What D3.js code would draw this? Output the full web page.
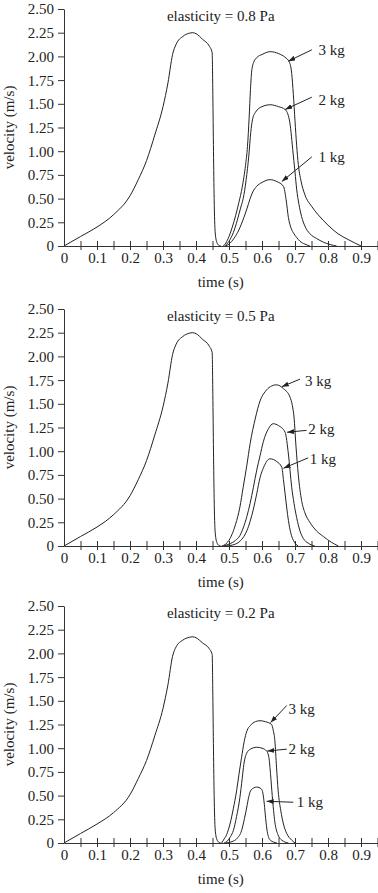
<!DOCTYPE html>
<html lang="en">
<head>
<meta charset="UTF-8">
<title>velocity vs time</title>
<script src="https://d3js.org/d3.v7.min.js"></script>
<style>
  body { margin: 0; background: #fff; }
  svg text { font-family: "Liberation Serif", "DejaVu Serif", serif; fill: #222; }
</style>
</head>
<body>
<svg id="chart" width="378" height="893"></svg>
<script>
// ---- data ----
const elasticity = ["0.8", "0.5", "0.2"];
const masses = ["1 kg", "2 kg", "3 kg"];
const xMajorTicks = [0, 0.1, 0.2, 0.3, 0.4, 0.5, 0.6, 0.7, 0.8, 0.9];
const xMinorTicks = [0.05, 0.15, 0.25, 0.35, 0.45, 0.55, 0.65, 0.75, 0.85, 0.95];
const xTickLabels = ["0", "0.1", "0.2", "0.3", "0.4", "0.5", "0.6", "0.7", "0.8", "0.9"];
const yTicks = [0, 0.25, 0.5, 0.75, 1, 1.25, 1.5, 1.75, 2, 2.25, 2.5];
const yTickLabels = ["0", "0.25", "0.50", "0.75", "1.00", "1.25", "1.50", "1.75", "2.00", "2.25", "2.50"];

// first hump, same for every mass
const swingT   = [0, 0.05, 0.1, 0.15, 0.2, 0.225, 0.25, 0.275, 0.3, 0.315, 0.329, 0.34, 0.36, 0.38, 0.39, 0.40, 0.42, 0.44, 0.449, 0.451, 0.453, 0.455, 0.458, 0.463, 0.47, 0.475];
const swingV   = [0, 0.10, 0.20, 0.33, 0.53, 0.70, 0.90, 1.17, 1.47, 1.72, 2.02, 2.13, 2.21, 2.245, 2.25, 2.24, 2.18, 2.11, 2.04, 1.6, 1.0, 0.5, 0.15, 0.04, 0.005, 0];
const swingV02 = [0, 0.10, 0.20, 0.32, 0.51, 0.68, 0.87, 1.13, 1.42, 1.67, 1.97, 2.07, 2.14, 2.17, 2.175, 2.165, 2.11, 2.05, 1.99, 1.56, 0.98, 0.5, 0.15, 0.04, 0.005, 0];

// elasticity 0.8 Pa
const e08_1kg_t = [0.49, 0.50, 0.515, 0.53, 0.545, 0.555, 0.564, 0.572, 0.584, 0.60, 0.624, 0.645, 0.665, 0.673, 0.68, 0.687, 0.695, 0.705, 0.715, 0.73, 0.745];
const e08_1kg_v = [0, 0.02, 0.08, 0.17, 0.3, 0.4, 0.5, 0.57, 0.63, 0.67, 0.70, 0.68, 0.63, 0.49, 0.3, 0.2, 0.14, 0.09, 0.05, 0.02, 0];
const e08_2kg_t = [0.487, 0.50, 0.513, 0.525, 0.535, 0.543, 0.552, 0.56, 0.566, 0.571, 0.58, 0.60, 0.625, 0.65, 0.67, 0.683, 0.688, 0.693, 0.70, 0.705, 0.712, 0.72, 0.73, 0.745, 0.765, 0.786, 0.826];
const e08_2kg_v = [0, 0.05, 0.14, 0.27, 0.4, 0.5, 0.7, 0.95, 1.2, 1.33, 1.41, 1.47, 1.49, 1.47, 1.44, 1.33, 1.2, 1.02, 0.78, 0.6, 0.44, 0.31, 0.21, 0.13, 0.08, 0.04, 0];
const e08_3kg_t = [0.483, 0.49, 0.50, 0.51, 0.52, 0.53, 0.54, 0.55, 0.556, 0.561, 0.565, 0.569, 0.575, 0.585, 0.60, 0.625, 0.65, 0.67, 0.683, 0.69, 0.695, 0.70, 0.705, 0.71, 0.718, 0.73, 0.75, 0.77, 0.80, 0.83, 0.86, 0.90];
const e08_3kg_v = [0, 0.03, 0.1, 0.2, 0.32, 0.46, 0.62, 0.85, 1.05, 1.35, 1.65, 1.85, 1.94, 1.99, 2.02, 2.05, 2.03, 1.99, 1.94, 1.82, 1.6, 1.32, 1.06, 0.86, 0.69, 0.54, 0.42, 0.33, 0.22, 0.13, 0.07, 0];

// elasticity 0.5 Pa
const e05_1kg_t = [0.487, 0.51, 0.533, 0.545, 0.554, 0.564, 0.574, 0.584, 0.594, 0.605, 0.624, 0.645, 0.66, 0.665, 0.67, 0.68, 0.687, 0.695, 0.71];
const e05_1kg_v = [0, 0.01, 0.05, 0.1, 0.16, 0.26, 0.39, 0.55, 0.72, 0.83, 0.92, 0.89, 0.83, 0.7, 0.55, 0.27, 0.14, 0.06, 0];
const e05_2kg_t = [0.483, 0.50, 0.52, 0.533, 0.543, 0.554, 0.564, 0.574, 0.584, 0.594, 0.604, 0.62, 0.634, 0.65, 0.67, 0.68, 0.69, 0.697, 0.705, 0.715, 0.725, 0.74, 0.76];
const e05_2kg_v = [0, 0.02, 0.06, 0.11, 0.19, 0.31, 0.45, 0.62, 0.8, 0.95, 1.1, 1.24, 1.29, 1.27, 1.2, 0.97, 0.62, 0.45, 0.3, 0.16, 0.08, 0.03, 0];
const e05_3kg_t = [0.478, 0.49, 0.50, 0.51, 0.52, 0.533, 0.543, 0.554, 0.564, 0.58, 0.594, 0.61, 0.625, 0.644, 0.665, 0.685, 0.692, 0.697, 0.703, 0.71, 0.72, 0.73, 0.745, 0.765, 0.786, 0.81, 0.831];
const e05_3kg_v = [0, 0.02, 0.06, 0.13, 0.23, 0.41, 0.62, 0.85, 1.08, 1.35, 1.53, 1.63, 1.68, 1.70, 1.66, 1.57, 1.48, 1.36, 1.05, 0.75, 0.48, 0.35, 0.25, 0.16, 0.1, 0.04, 0];

// elasticity 0.2 Pa
const e02_1kg_t = [0.49, 0.505, 0.513, 0.525, 0.538, 0.547, 0.554, 0.56, 0.567, 0.584, 0.598, 0.603, 0.607, 0.611, 0.616, 0.625, 0.645];
const e02_1kg_v = [0, 0.01, 0.02, 0.05, 0.13, 0.26, 0.38, 0.49, 0.56, 0.59, 0.57, 0.52, 0.41, 0.26, 0.12, 0.03, 0];
const e02_2kg_t = [0.485, 0.495, 0.505, 0.513, 0.523, 0.533, 0.54, 0.545, 0.554, 0.565, 0.584, 0.60, 0.614, 0.621, 0.626, 0.631, 0.639, 0.648, 0.66, 0.68];
const e02_2kg_v = [0, 0.02, 0.07, 0.13, 0.28, 0.48, 0.68, 0.83, 0.95, 0.99, 1.01, 1.0, 0.97, 0.9, 0.72, 0.5, 0.22, 0.09, 0.03, 0];
const e02_3kg_t = [0.478, 0.483, 0.493, 0.503, 0.513, 0.523, 0.53, 0.538, 0.546, 0.554, 0.565, 0.58, 0.594, 0.61, 0.629, 0.634, 0.639, 0.644, 0.649, 0.657, 0.665, 0.675, 0.69, 0.70];
const e02_3kg_v = [0, 0.03, 0.09, 0.2, 0.36, 0.55, 0.72, 0.9, 1.07, 1.18, 1.24, 1.28, 1.29, 1.28, 1.25, 1.19, 1.08, 0.8, 0.55, 0.34, 0.2, 0.1, 0.03, 0];

// ---- layout ----
const panelTop = [9, 309, 606];
const plotH = 237;
const fontSize = 15;

// label / arrow placement in data units: [labelT, labelV, tailT, tailV, tipT, tipV], order 1, 2, 3 kg
const notePos = [
  [[0.771, 0.94, 0.751, 0.94, 0.660, 0.68], [0.771, 1.54, 0.751, 1.57, 0.670, 1.44], [0.771, 2.07, 0.751, 2.07, 0.680, 1.95]],
  [[0.745, 0.92, 0.740, 0.93, 0.665, 0.82], [0.740, 1.23, 0.735, 1.22, 0.676, 1.20], [0.730, 1.74, 0.715, 1.76, 0.660, 1.68]],
  [[0.705, 0.43, 0.695, 0.43, 0.614, 0.44], [0.680, 0.99, 0.675, 0.99, 0.616, 0.97], [0.680, 1.41, 0.675, 1.45, 0.626, 1.27]]
];

const panels = [
  { swing: swingV,   curves: [[e08_1kg_t, e08_1kg_v], [e08_2kg_t, e08_2kg_v], [e08_3kg_t, e08_3kg_v]] },
  { swing: swingV,   curves: [[e05_1kg_t, e05_1kg_v], [e05_2kg_t, e05_2kg_v], [e05_3kg_t, e05_3kg_v]] },
  { swing: swingV02, curves: [[e02_1kg_t, e02_1kg_v], [e02_2kg_t, e02_2kg_v], [e02_3kg_t, e02_3kg_v]] }
];

const svg = d3.select("#chart");
const ink = "#222";

svg.append("defs").append("marker")
    .attr("id", "arrow")
    .attr("markerUnits", "userSpaceOnUse")
    .attr("markerWidth", 8).attr("markerHeight", 6)
    .attr("refX", 7).attr("refY", 2.5)
    .attr("orient", "auto")
  .append("path")
    .attr("d", "M0,0 L7,2.5 L0,5 Z")
    .attr("fill", ink);

const x = d3.scaleLinear().domain([0, 0.95]).range([64, 64 + 0.95 * 330]);

panels.forEach((p, pi) => {
  const top = panelTop[pi];
  const y = d3.scaleLinear().domain([0, 2.5]).range([top + plotH, top]);
  const g = svg.append("g");

  // y axis
  const ya = g.append("g")
      .attr("transform", `translate(${x(0)},0)`)
      .call(d3.axisLeft(y).tickValues(yTicks).tickSize(6).tickSizeOuter(0).tickPadding(4)
        .tickFormat((d, i) => yTickLabels[i]));
  ya.attr("font-size", fontSize).attr("font-family", null);
  ya.selectAll("text").attr("dy", "0.33em");

  // x axis: minor ticks, then major ticks with labels
  const xa1 = g.append("g")
      .attr("transform", `translate(0,${y(0)})`)
      .call(d3.axisBottom(x).tickValues(xMinorTicks).tickSize(4).tickSizeOuter(0).tickFormat(""));
  const xa2 = g.append("g")
      .attr("transform", `translate(0,${y(0)})`)
      .call(d3.axisBottom(x).tickValues(xMajorTicks).tickSize(4).tickSizeOuter(0).tickPadding(2.5)
        .tickFormat((d, i) => xTickLabels[i]));
  xa2.select(".domain").remove();
  [xa1, xa2].forEach(a => {
    a.attr("font-size", fontSize).attr("font-family", null);
    a.selectAll(".tick line").attr("y1", -5).attr("y2", 4);
  });
  xa2.selectAll(".tick").filter(d => d === 0).select("line").remove();
  g.selectAll(".domain, .tick line").attr("stroke", "#333");

  // titles
  g.append("text")
      .attr("x", (x.range()[0] + x.range()[1]) / 2)
      .attr("y", top + 12)
      .attr("text-anchor", "middle")
      .attr("font-size", fontSize)
      .text(`elasticity = ${elasticity[pi]} Pa`);
  g.append("text")
      .attr("x", (x.range()[0] + x.range()[1]) / 2)
      .attr("y", y(0) + 41)
      .attr("text-anchor", "middle")
      .attr("font-size", fontSize)
      .text("time (s)");
  g.append("text")
      .attr("transform", `translate(9,${(y(0) + y(2.5)) / 2}) rotate(-90)`)
      .attr("dy", "0.3em")
      .attr("text-anchor", "middle")
      .attr("font-size", fontSize)
      .text("velocity (m/s)");

  // curves
  const line = d3.line()
      .x(d => x(d[0]))
      .y(d => y(d[1]))
      .curve(d3.curveMonotoneX);

  g.append("path")
      .datum(d3.zip(swingT, p.swing))
      .attr("d", line)
      .attr("fill", "none").attr("stroke", ink).attr("stroke-width", 1);

  p.curves.forEach(c => {
    g.append("path")
        .datum(d3.zip(c[0], c[1]))
        .attr("d", line)
        .attr("fill", "none").attr("stroke", ink).attr("stroke-width", 1);
  });

  // mass labels with arrows
  notePos[pi].forEach((n, mi) => {
    g.append("line")
        .attr("x1", x(n[2])).attr("y1", y(n[3]))
        .attr("x2", x(n[4])).attr("y2", y(n[5]))
        .attr("stroke", ink).attr("stroke-width", 1)
        .attr("marker-end", "url(#arrow)");
    g.append("text")
        .attr("x", x(n[0])).attr("y", y(n[1]))
        .attr("dy", "0.32em")
        .attr("font-size", fontSize)
        .text(masses[mi]);
  });
});
</script>
</body>
</html>
